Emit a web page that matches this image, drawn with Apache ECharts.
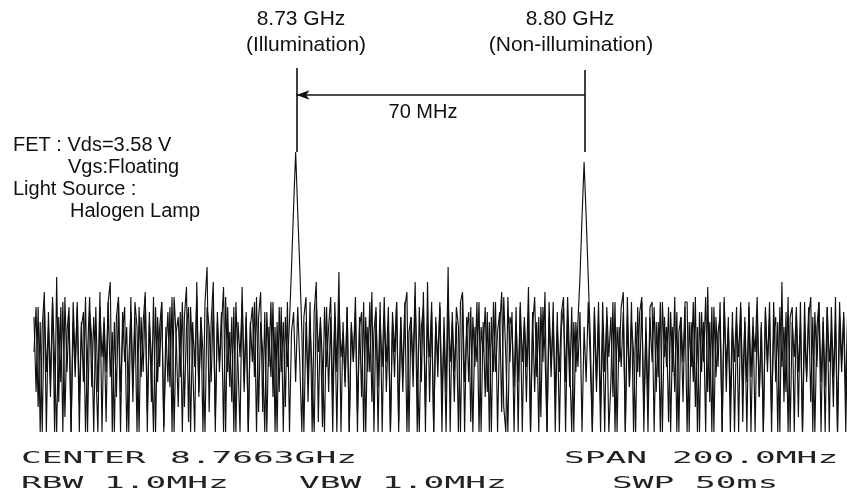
<!DOCTYPE html>
<html>
<head>
<meta charset="utf-8">
<script src="https://cdn.jsdelivr.net/npm/echarts@6/dist/echarts.min.js"></script>
</head>
<body style="margin:0;background:#fff">
<div id="main" style="width:847px;height:502px"></div>
<script>
// sweep settings (from the footer of the screen)
var centerMHz = 8766.3;
var spanMHz = 200;
var stepMHz = 0.5;
// the photo is cut off on the right, so the visible window ends a little early
var visibleMaxMHz = 8863.6;

// two overlaid sweeps, level in dB, one value per sweep point, left to right
// sweep with illumination (carrier at 8.73 GHz)
var traceIllum = [
  -57,-72,-55,-80,-59,-52,-80,-56,-70,-54,-80,-49,-74,-55,-80,-53,-68,-57,-80,-54,
  -66,-55,-80,-58,-70,-53,-80,-56,-61,-80,-55,-72,-52,-80,-57,-68,-54,-50,-80,-58,
  -73,-54,-80,-56,-66,-59,-80,-53,-71,-57,-80,-55,-69,-58,-52,-80,-56,-74,-53,-80,
  -57,-67,-54,-80,-59,-70,-55,-80,-53,-61,-75,-56,-80,-57,-51,-78,-55,-66,-80,-50,
  -72,-57,-80,-54,-47,-76,-58,-50,-80,-56,-68,-59,-51,-80,-55,-71,-57,-80,-54,-66,
  -80,-51,-70,-56,-80,-58,-66,-54,-80,-57,-52,-76,-56,-80,-59,-69,-54,-80,-58,-72,
  -55,-80,-57,-67,-58,-47,-35,-24,-36,-47,-60,-80,-58,-70,-54,-80,-56,-50,-78,-57,
  -66,-80,-55,-72,-57,-80,-54,-68,-48,-80,-58,-70,-55,-80,-59,-66,-56,-80,-57,-73,
  -54,-80,-59,-68,-52,-80,-56,-71,-54,-80,-57,-66,-55,-80,-58,-69,-54,-80,-57,-72,
  -55,-52,-80,-57,-67,-50,-80,-55,-70,-52,-80,-50,-74,-56,-80,-58,-66,-54,-80,-57,
  -72,-47,-80,-56,-68,-58,-80,-54,-52,-80,-57,-70,-55,-80,-59,-66,-54,-80,-58,-73,
  -56,-80,-57,-68,-54,-80,-59,-52,-75,-80,-53,-66,-56,-80,-58,-70,-55,-80,-57,-67,
  -51,-80,-56,-72,-58,-80,-55,-66,-52,-80,-57,-69,-54,-80,-59,-68,-56,-53,-80,-57,
  -71,-55,-80,-58,-67,-56,-80,-59,-70,-54,-66,-80,-55,-72,-58,-80,-54,-68,-57,-80,
  -70,-54,-80,-59,-66,-55,-52,-80,-57,-71,-54,-80,-58,-68,-56,-53,-80,-57,-74,-55,
  -54,-80,-58,-69,-54,-80,-57,-67,-55,-80,-59,-72,-56,-80,-57,-66,-54,-54,-80,-58,
  -70,-53,-80,-56,-68,-58,-80,-51,-74,-55,-80,-57,-67,-54,-80,-53,-72,-57,-80,-59,
  -66,-55,-80,-55,-71,-58,-80,-54,-69,-57,-80,-56,-73,-59,-80,-55,-66,-57,-80,-54,
  -70,-58,-80,-50,-74,-56,-80,-57,-55,-80,-55,-68,-58,-80,-54,-70,-57,-53,-80,-56,
  -67,-54,-80,-57,-71,-55,-80,-55,-69,-58,-80,-54,-66,-57,-80,-55,-72,-58,-80,-56,
  -68
];
// sweep without illumination (carrier at 8.80 GHz)
var traceDark = [
  -64,-55,-75,-58,-80,-54,-68,-59,-73,-53,-66,-80,-57,-70,-54,-77,-60,-55,-80,-58,
  -69,-54,-74,-59,-56,-80,-64,-53,-71,-57,-67,-80,-55,-65,-58,-78,-54,-69,-60,-80,
  -57,-53,-72,-60,-55,-80,-66,-56,-74,-54,-59,-80,-57,-68,-53,-76,-58,-65,-80,-55,
  -70,-59,-54,-79,-64,-56,-71,-53,-80,-60,-57,-69,-54,-75,-59,-55,-80,-58,-67,-53,
  -73,-57,-64,-80,-55,-59,-70,-54,-77,-58,-66,-56,-80,-53,-68,-60,-74,-55,-80,-58,
  -65,-54,-72,-57,-80,-59,-55,-69,-53,-76,-58,-64,-80,-56,-67,-54,-73,-59,-80,-55,
  -68,-58,-75,-54,-80,-60,-56,-70,-55,-66,-80,-57,-53,-74,-59,-68,-80,-54,-64,-58,
  -79,-55,-67,-59,-53,-73,-57,-80,-54,-65,-60,-71,-55,-80,-58,-66,-53,-76,-59,-56,
  -80,-57,-68,-54,-74,-60,-55,-80,-58,-67,-53,-72,-59,-80,-56,-64,-54,-78,-57,-69,
  -54,-80,-60,-57,-71,-53,-67,-80,-59,-55,-75,-58,-65,-54,-80,-57,-69,-55,-73,-60,
  -80,-54,-66,-58,-74,-55,-59,-80,-53,-70,-60,-56,-78,-57,-67,-54,-80,-59,-64,-55,
  -72,-58,-80,-54,-68,-60,-56,-76,-53,-65,-80,-57,-59,-71,-55,-80,-54,-66,-58,-74,
  -56,-80,-59,-53,-69,-57,-77,-55,-64,-80,-54,-67,-58,-73,-56,-80,-59,-55,-70,-53,
  -66,-80,-58,-68,-58,-49,-37,-26,-37,-49,-61,-80,-56,-70,-54,-75,-59,-80,-55,-65,
  -57,-73,-54,-80,-59,-67,-56,-80,-53,-71,-58,-64,-80,-55,-69,-54,-76,-60,-80,-57,
  -66,-55,-72,-58,-80,-54,-65,-59,-78,-56,-68,-53,-80,-60,-57,-74,-55,-80,-58,-67,
  -54,-75,-59,-80,-56,-66,-53,-72,-58,-80,-55,-69,-60,-57,-80,-54,-67,-59,-74,-56,
  -80,-58,-65,-54,-78,-57,-70,-55,-80,-59,-64,-53,-73,-58,-80,-56,-68,-54,-76,-60,
  -57,-80,-55,-67,-59,-72,-53,-80,-58,-65,-56,-77,-54,-80,-60,-69,-55,-74,-57,-80,
  -59,-54,-70,-58,-80,-55,-66,-60,-75,-53,-80,-57,-68,-56,-73,-54,-80,-59,-65,-55,
  -71
];

// peak markers
var markerFreqs = [8730, 8800];
var markerTop = [-7.2, -7.6];
var markerBottom = [-24, -24];
var arrowLevel = -12.6;

var startMHz = centerMHz - spanMHz / 2;
function toPoints(trace) {
  return trace.map(function (v, i) { return [startMHz + i * stepMHz, v]; });
}

var chart = echarts.init(document.getElementById('main'));

var sans = '"Liberation Sans", Arial, sans-serif';
function label(text, x, y, size, align) {
  return {
    type: 'text', x: x, y: y, silent: true,
    style: { text: text, font: size + 'px ' + sans, fill: '#111',
             textAlign: align || 'left', textVerticalAlign: 'middle' }
  };
}
function plotter(text, x, y) {
  return {
    type: 'text', x: x, y: y, scaleX: 2.3, silent: true,
    style: { text: text, font: '15px "DejaVu Sans Mono", monospace', fill: '#222',
             textVerticalAlign: 'middle' }
  };
}

var option = {
  backgroundColor: '#fff',
  animation: false,
  grid: { left: 34, top: 32, right: 0, height: 400 },
  xAxis: { type: 'value', min: startMHz, max: visibleMaxMHz, show: false },
  yAxis: { type: 'value', min: -80, max: 0, show: false },
  series: [{
    type: 'line',
    data: toPoints(traceIllum),
    symbol: 'none',
    lineStyle: { color: '#111', width: 1.15 },
    markLine: {
      silent: true,
      symbol: ['none', 'none'],
      label: { show: false },
      lineStyle: { color: '#111', width: 1.6, type: 'solid' },
      data: [
        [{ coord: [markerFreqs[0], markerTop[0]] }, { coord: [markerFreqs[0], markerBottom[0]] }],
        [{ coord: [markerFreqs[1], markerTop[1]] }, { coord: [markerFreqs[1], markerBottom[1]] }],
        [{ coord: [markerFreqs[1], arrowLevel], symbol: 'none' },
         { coord: [markerFreqs[0], arrowLevel], symbol: 'arrow', symbolSize: [7, 13] }]
      ]
    }
  }, {
    type: 'line',
    data: toPoints(traceDark),
    symbol: 'none',
    lineStyle: { color: '#111', width: 1.15 }
  }],
  graphic: [
    label('8.73 GHz', 301, 19, 21, 'center'),
    label('(Illumination)', 306, 45, 21, 'center'),
    label('8.80 GHz', 570, 19, 21, 'center'),
    label('(Non-illumination)', 571, 45, 21, 'center'),
    label('70 MHz', 423, 112, 20, 'center'),
    label('FET : Vds=3.58 V', 13, 145, 20),
    label('Vgs:Floating', 68, 167, 20),
    label('Light Source :', 13, 189, 20),
    label('Halogen Lamp', 70, 211, 20),
    plotter('CENTER', 21, 459),
    plotter('8.7663GHz', 170, 459),
    plotter('SPAN', 564, 459),
    plotter('200.0MHz', 672, 459),
    plotter('RBW 1.0MHz', 21, 484),
    plotter('VBW 1.0MHz', 299, 484),
    plotter('SWP 50ms', 612, 484)
  ]
};

chart.setOption(option);
</script>
</body>
</html>
